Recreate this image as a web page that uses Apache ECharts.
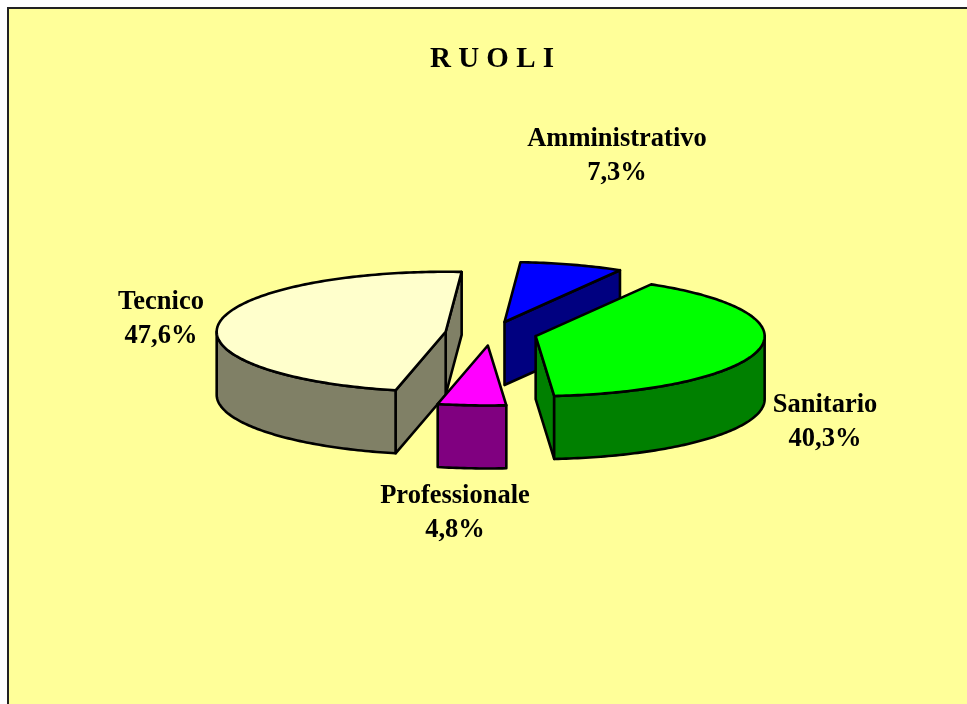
<!DOCTYPE html>
<html>
<head>
<meta charset="utf-8">
<title>Ruoli</title>
<script src="https://cdn.jsdelivr.net/npm/echarts@6/dist/echarts.min.js"></script>
<style>
html, body { margin: 0; padding: 0; background: #fff; }
#chart { width: 967px; height: 704px; }
</style>
</head>
<body>
<div id="chart"></div>
<script>
const titleText = 'R U O L I';
const categories = ['Amministrativo', 'Sanitario', 'Professionale', 'Tecnico'];
const percentages = [7.3, 40.3, 4.8, 47.6];

const topColors = ['#0000FF', '#00FF00', '#FF00FF', '#FFFFCC'];
const sideColors = ['#000080', '#008000', '#800080', '#808066'];
const labelCentres = [[617, 156], [825, 422], [455, 513], [161, 319]];

// pie geometry, as Excel's 3D pie draws it
const cx = 491, cy = 333.5, rx = 229, ry = 60, depth = 63, explode = 0.2;
const firstAngle = 86;

const rad = (deg) => deg * Math.PI / 180;
const total = percentages.reduce((a, b) => a + b, 0);

// slices run clockwise from firstAngle
function sliceAngles(index) {
  let before = 0;
  for (let i = 0; i < index; i++) before += percentages[i];
  const end = firstAngle - before / total * 360;
  const start = end - percentages[index] / total * 360;
  return [start, end];
}

function pt(c, deg, drop) {
  return [c[0] + rx * Math.cos(rad(deg)), c[1] - ry * Math.sin(rad(deg)) + (drop || 0)];
}

function arc(c, from, to, drop) {
  const pts = [];
  const steps = Math.max(2, Math.ceil(Math.abs(to - from)));
  for (let i = 0; i <= steps; i++) {
    pts.push(pt(c, from + (to - from) * i / steps, drop));
  }
  return pts;
}

function poly(points, fill, z2) {
  return {
    type: 'polygon',
    z2: z2,
    shape: { points: points },
    style: { fill: fill, stroke: '#000', lineWidth: 2.6, lineJoin: 'round' }
  };
}

function renderSlice(params, api) {
  const i = params.dataIndex;
  const [t0, t1] = sliceAngles(i);
  const mid = (t0 + t1) / 2;
  const c = [
    cx + explode * rx * Math.cos(rad(mid)),
    cy - explode * ry * Math.sin(rad(mid))
  ];
  const order = -Math.sin(rad(mid)) * 10 + 20;
  const children = [];

  // cut faces, only those turned towards the viewer
  [[t0, Math.cos(rad(t0)) > 0], [t1, Math.cos(rad(t1)) < 0]].forEach(([a, visible]) => {
    if (!visible) return;
    const p = pt(c, a);
    children.push(poly([c, p, [p[0], p[1] + depth], [c[0], c[1] + depth]], sideColors[i], order));
  });

  // outer wall on the front half of the ellipse
  [[-180, 0], [180, 360]].forEach(([lo, hi]) => {
    const from = Math.max(t0, lo);
    const to = Math.min(t1, hi);
    if (to <= from) return;
    const wall = arc(c, from, to, 0).concat(arc(c, to, from, depth));
    children.push(poly(wall, sideColors[i], order));
  });

  children.push(poly([c].concat(arc(c, t0, t1, 0)), topColors[i], order + 1));

  children.push({
    type: 'text',
    z2: 100,
    style: {
      x: labelCentres[i][0],
      y: labelCentres[i][1],
      text: categories[i] + '\n' + api.value(0).toFixed(1).replace('.', ',') + '%',
      fill: '#000',
      font: 'bold 26.5px "Liberation Serif", "Times New Roman", serif',
      lineHeight: 34,
      align: 'center',
      verticalAlign: 'middle'
    }
  });

  return { type: 'group', children: children };
}

const chart = echarts.init(document.getElementById('chart'));
chart.setOption({
  animation: false,
  backgroundColor: '#fff',
  title: {
    text: titleText,
    left: 487,
    top: 40,
    textAlign: 'center',
    textStyle: {
      color: '#000',
      fontFamily: '"Liberation Serif", "Times New Roman", serif',
      fontWeight: 'bold',
      fontSize: 29
    }
  },
  graphic: [{
    type: 'rect',
    silent: true,
    shape: { x: 8, y: 8, width: 980, height: 720 },
    style: { fill: '#FFFF99', stroke: '#222', lineWidth: 2 }
  }],
  series: [{
    type: 'custom',
    coordinateSystem: 'none',
    renderItem: renderSlice,
    data: percentages.map((v) => [v])
  }]
});
</script>
</body>
</html>
